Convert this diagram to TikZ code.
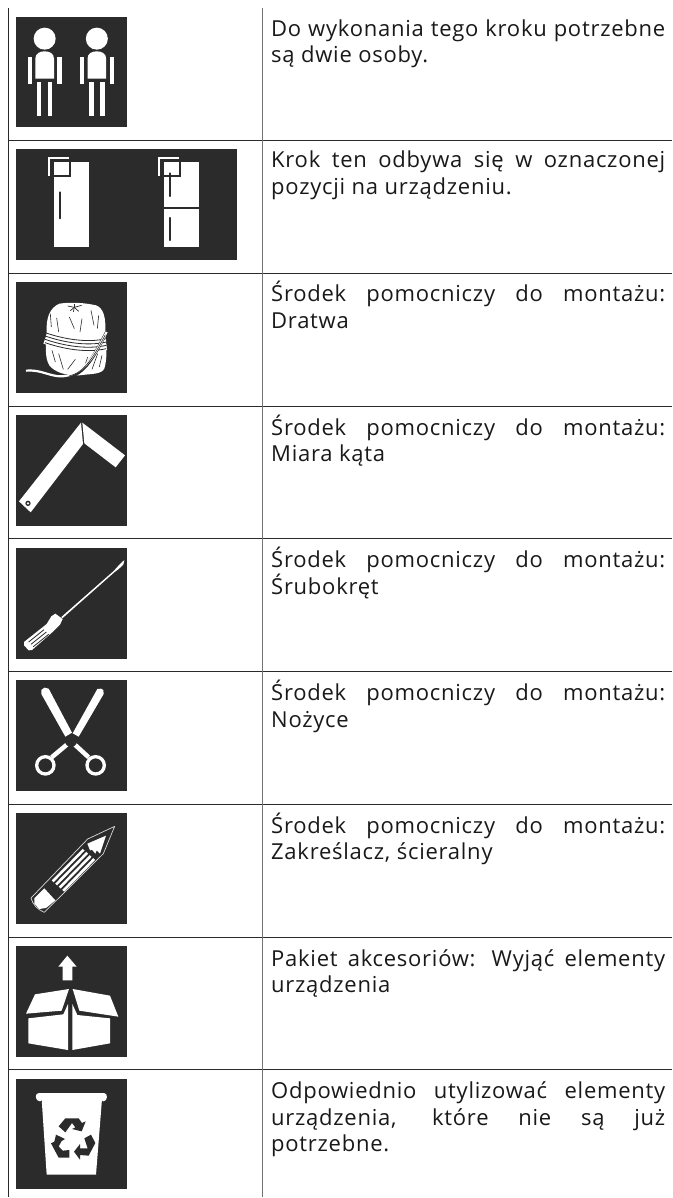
\documentclass[tikz,border=0pt]{standalone}
\usepackage{fontspec}
\setmainfont[LetterSpace=3.4]{Open Sans}
\definecolor{ico}{HTML}{2B2B2B}
\definecolor{rulecol}{HTML}{2A2A2A}
\newcommand\jl[1]{\hbox to 394pt{#1}}
\tikzset{
 txt/.style={anchor=base west,inner sep=0pt,text=black!90,font=\fontsize{22}{26}\selectfont},
 tile/.style={fill=ico,draw=none},
 wh/.style={fill=white,draw=none},
 dk/.style={fill=ico,draw=none},
 wl/.style={draw=white},
 dl/.style={draw=ico},
 rl/.style={draw=rulecol,line width=1pt},
 zm/.style={x=0.33333pt,y=-0.33333pt},
}
\begin{document}
\begin{tikzpicture}[x=1pt,y=-1pt]
\useasboundingbox (0,0) rectangle (672,1198);
\fill[white] (0,0) rectangle (672,1198);
% rules
\foreach \yy in {140.5,273.3,406,538.2,671.5,804.5,937,1069.3} \draw[rl] (8.5,\yy) -- (672,\yy);
\draw[rl] (8.5,8) -- (8.5,1197);
\draw[rl,draw=black!55] (262.3,8) -- (262.3,1197);
% tiles
\foreach \a/\b/\c in {127/17/127,237/149/260,127/282/393,127/415/526,127/548/659,127/680/791,127/813/924,127/946/1057,127/1079/1189}
 \fill[tile] (16,\b) rectangle (\a,\c);
% persons
\begin{scope}[zm]
\foreach \d in {0,156.5}{
 \begin{scope}[xshift=\d*0.33333pt]
 \fill[wh] (134,116) circle[radius=33];
 \fill[wh] (106,236) -- (106,176) .. controls (106,160) and (120,154) .. (134,154) .. controls (148,154) and (162,160) .. (162,176) -- (162,236) -- cycle;
 \fill[wh] (83,170) rectangle (96,251);
 \fill[wh] (172,170) rectangle (185,251);
 \fill[wh] (111,245) rectangle (124,347);
 \fill[wh] (144,245) rectangle (157,347);
 \end{scope}}
% fridges
\fill[wh] (161,486) rectangle (268,742);
\fill[wh] (491,486) rectangle (598,742);
\draw[dl,line width=1.8pt] (160,527) -- (209,527) -- (209,484);
\draw[dl,line width=1.8pt] (490,527) -- (539,527) -- (539,484);
\draw[wl,line width=1.8pt] (148,527) -- (148,474) -- (207,474);
\draw[wl,line width=1.8pt] (478,527) -- (478,474) -- (537,474);
\draw[dl,line width=2.2pt,line cap=round] (179,577) -- (179,655);
\draw[dl,line width=2.2pt,line cap=round] (509,520) -- (509,588);
\draw[dl,line width=2.2pt,line cap=round] (509,654) -- (509,720);
\draw[dl,line width=1.2pt] (491,624) -- (598,624);
\end{scope}
% ball of twine
\begin{scope}[shift={(16,282)},zm]
\fill[wh] (130,65) .. controls (165,60) and (205,62) .. (240,70) .. controls (262,78) and (270,105) .. (268,150)
  .. controls (272,190) and (274,230) .. (265,260) .. controls (255,278) and (225,275) .. (190,280)
  .. controls (150,282) and (115,270) .. (100,250) .. controls (85,225) and (90,190) .. (92,150)
  .. controls (90,110) and (100,78) .. (130,65) -- cycle;
\foreach \p/\q in {155/72,163/86,188/88,197/70,175/66,172/90}
  \draw[dl,line width=.7pt] (175,76) -- (\p,\q);
\foreach \p/\q/\r/\s in {103/95/106/135,122/108/128/150,160/105/175/140,198/110/192/150,225/85/234/130,248/100/244/140,
 108/205/118/240,128/215/142/262,178/232/155/262,215/225/205/255,245/215/228/262,258/220/250/255}
  \draw[dl,line width=.6pt] (\p,\q) -- (\r,\s);
\draw[wl,line width=12pt] (88,168) .. controls (140,186) and (210,200) .. (270,186);
\foreach \o in {0,10,20,30}
  \draw[dl,line width=.8pt] (87,{152+\o}) .. controls (140,{170+\o}) and (210,{184+\o}) .. (271,{170+\o});
\draw[dl,line width=3.2pt] (272,150) .. controls (240,210) and (205,285) .. (150,283);
\draw[wl,line width=2.2pt] (272,150) .. controls (240,210) and (205,285) .. (130,283) .. controls (95,280) and (70,262) .. (30,266);
\draw[dl,line width=.6pt] (268,158) .. controls (240,212) and (205,275) .. (160,281);
\end{scope}
% angle
\begin{scope}[shift={(0,270)},zm]
\fill[wh] (243,458) -- (57,694) -- (92,727) -- (249,522) -- cycle;
\fill[wh] (247,458) -- (375,556) -- (347,592) -- (253,520) -- cycle;
\fill[dk] (84,700) circle[radius=8];
\fill[wh] (84,700) circle[radius=4];
\end{scope}
% screwdriver
\begin{scope}[shift={(16,548)},zm]
\fill[wh] (136,207) -- (293,69) -- (312,48) -- (325,36) -- (322,50) -- (307,64) -- (296,72) -- (139,211) -- cycle;
\fill[wh] (24,282) -- (92,228) -- (106,205) -- (118,197) -- (140,213) -- (132,230) -- (112,250) -- (48,306) -- (38,307) -- (24,292) -- cycle;
\foreach \o in {0,7,14}
  \draw[dl,line width=.8pt] ({38+\o},{282+\o}) -- ({84+\o},{245+\o});
\end{scope}
% scissors
\begin{scope}[shift={(0,540)},zm]
\fill[wh] (124,462) -- (124,450) -- (133,443) -- (146,446) -- (216,578) -- (196,590) -- cycle;
\fill[wh] (311,462) -- (310,450) -- (303,446) -- (292,447) -- (218,580) -- (236,590) -- cycle;
\draw[wl,line width=4.5pt] (210,606) -- (155,652);
\draw[wl,line width=4.5pt] (216,606) -- (266,652);
\draw[wl,line width=3.3pt] (136,676) circle[radius=26];
\draw[wl,line width=3.3pt] (287,676) circle[radius=26];
\fill[dk] (213,603) circle[radius=18];
\end{scope}
% pencil
\begin{scope}[shift={(16,813)},zm]
\draw[draw=white!85!black,line width=.7pt,line join=round] (296,40) -- (215,78) -- (45,255) .. controls (50,275) and (65,290) .. (85,298) -- (262,122) -- cycle;
\fill[wh] (214,92) -- (270,68) -- (252,122) -- (242,112) -- (238,122) -- (228,110) -- (222,112) -- cycle;
\foreach \o in {0,10.5,21,31.5}
  \draw[wl,line width=2.6pt] ({203+\o},{110+\o*.9}) -- ({110+\o},{205+\o*.9});
\fill[wh] (55,256) -- (85,226) -- (118,262) -- (90,285) -- (70,288) -- (55,272) -- cycle;
\end{scope}
% box
\begin{scope}[shift={(0,800)},zm]
\fill[wh] (202,467) -- (230,500) -- (217,500) -- (217,541) -- (188,541) -- (188,500) -- (175,500) -- cycle;
\fill[wh] (78,641) -- (105,583) -- (207,567) -- (185,632) -- cycle;
\fill[wh] (218,567) -- (330,587) -- (355,650) -- (238,632) -- cycle;
\fill[wh] (85,655) -- (190,643) -- (204,612) -- (204,750) -- (85,730) -- cycle;
\fill[wh] (217,612) -- (232,645) -- (330,655) -- (330,730) -- (217,750) -- cycle;
\end{scope}
% bin
\begin{scope}[shift={(16,1079)},zm]
\fill[wh] (77,60) -- (92,287) -- (240,287) -- (258,60) -- cycle;
\fill[wh] (68,42) -- (264,42) .. controls (276,42) and (276,67) .. (262,67) .. controls (258,67) and (256,62) .. (254,60) -- (80,60) .. controls (78,62) and (76,67) .. (72,67) .. controls (56,67) and (56,42) .. (68,42) -- cycle;
\fill[dk] (128,142) -- (148,160) -- (168,132) -- (178,145) -- (168,150) -- (197,157) -- (209,127) -- (198,132) -- (188,118) -- (148,118) -- cycle;
\fill[dk] (205,178) -- (225,167) -- (238,192) -- (218,230) -- (192,228) -- (192,242) -- (174,218) -- (192,195) -- (192,208) -- (215,208) -- cycle;
\fill[dk] (105,193) -- (115,188) -- (120,167) -- (147,180) -- (137,186) -- (128,202) -- (140,215) -- (160,213) -- (160,236) -- (128,236) -- cycle;
\end{scope}
% text
\node[txt] (t1a) at (271,36.7) {\jl{Do wykonania tego kroku potrzebne}};
\node[txt] (t1b) at (271,63) {są dwie osoby.};
\node[txt] (t2a) at (271,168) {\jl{Krok ten odbywa się w oznaczonej}};
\node[txt] (t2b) at (271,195) {pozycji na urządzeniu.};
\node[txt] (t3a) at (271,301.5) {\jl{Środek pomocniczy do montażu:}};
\node[txt] (t3b) at (271,328) {Dratwa};
\node[txt] (t4a) at (271,435) {\jl{Środek pomocniczy do montażu:}};
\node[txt] (t4b) at (271,461.5) {Miara kąta};
\node[txt] (t5a) at (271,567.5) {\jl{Środek pomocniczy do montażu:}};
\node[txt] (t5b) at (271,594) {Śrubokręt};
\node[txt] (t6a) at (271,700) {\jl{Środek pomocniczy do montażu:}};
\node[txt] (t6b) at (271,727) {Nożyce};
\node[txt] (t7a) at (271,833) {\jl{Środek pomocniczy do montażu:}};
\node[txt] (t7b) at (271,859.5) {Zakreślacz, ścieralny};
\node[txt] (t8a) at (271,966) {\jl{Pakiet akcesoriów: Wyjąć elementy}};
\node[txt] (t8b) at (271,992.5) {urządzenia};
\node[txt] (t9a) at (271,1098.5) {\jl{Odpowiednio utylizować elementy}};
\node[txt] (t9b) at (271,1125) {\jl{urządzenia, które nie są już}};
\node[txt] (t9c) at (271,1151.5) {potrzebne.};
\end{tikzpicture}
\end{document}
